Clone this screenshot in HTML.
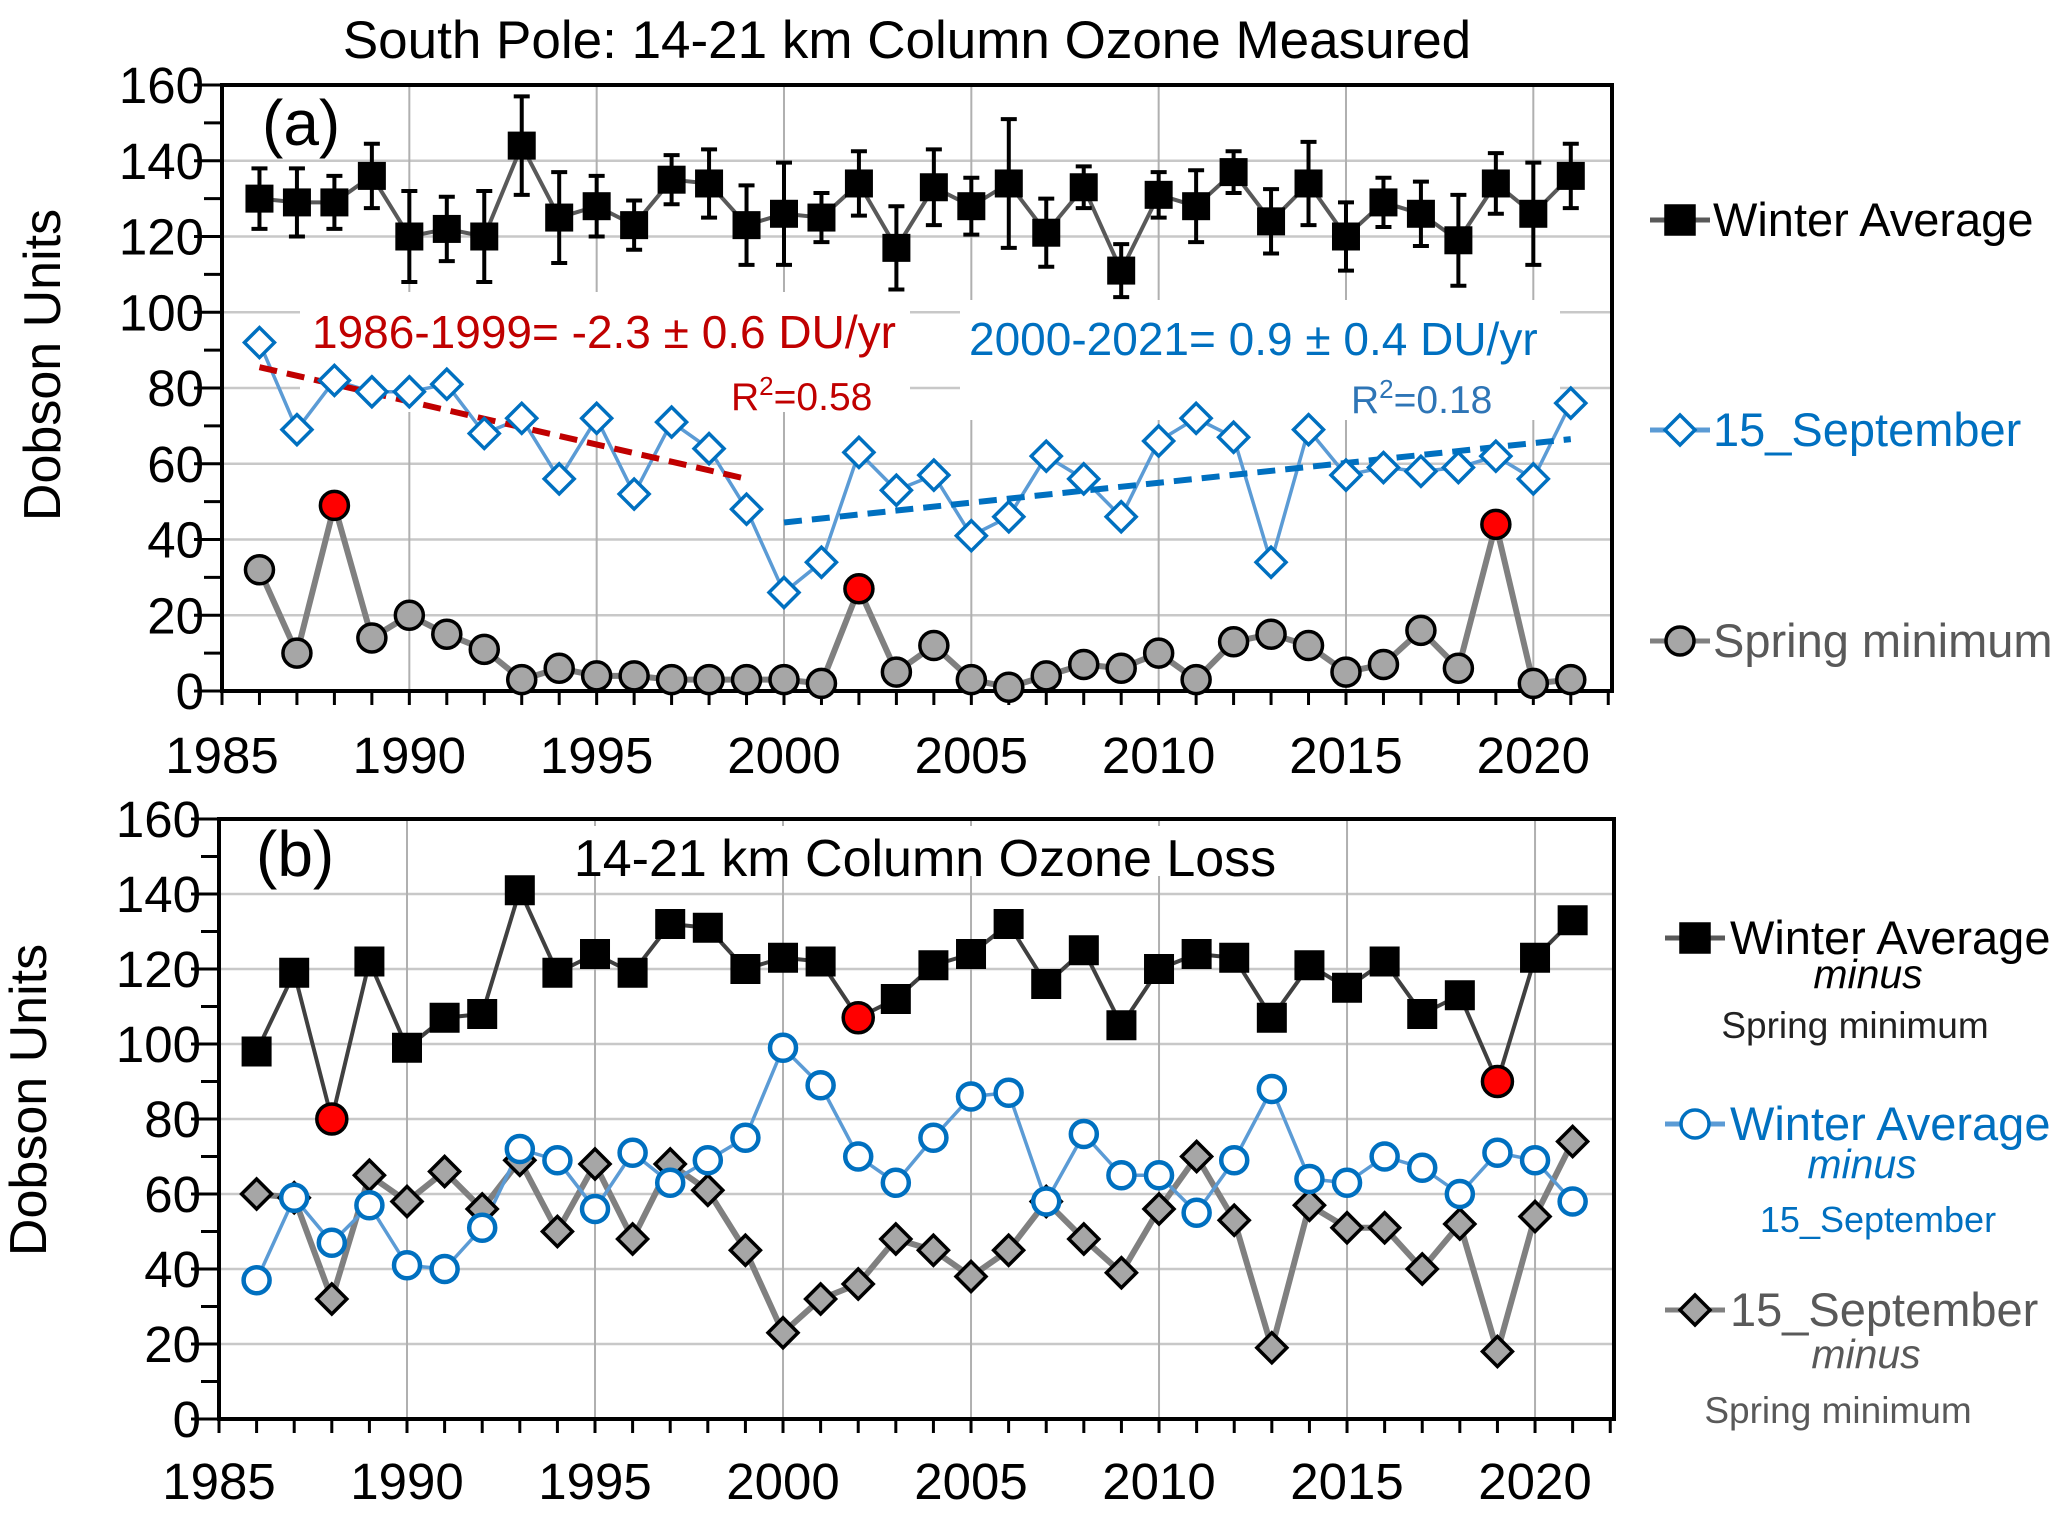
<!DOCTYPE html>
<html><head><meta charset="utf-8">
<style>
html,body{margin:0;padding:0;background:#fff;}
svg{display:block;font-family:"Liberation Sans",sans-serif;}
</style></head>
<body>
<svg id="chart" width="2067" height="1520" viewBox="0 0 2067 1520" xmlns="http://www.w3.org/2000/svg">
<text x="907" y="58" font-size="53" text-anchor="middle">South Pole:  14-21 km Column Ozone Measured</text>
<g id="pa"></g>
<g id="pb"></g>
</svg>
<script>
const years = [1986,1987,1988,1989,1990,1991,1992,1993,1994,1995,1996,1997,1998,1999,2000,2001,2002,2003,2004,2005,2006,2007,2008,2009,2010,2011,2012,2013,2014,2015,2016,2017,2018,2019,2020,2021];
const winterAvg = [130,129,129,136,120,122,120,144,125,128,123,135,134,123,126,125,134,117,133,128,134,121,133,111,131,128,137,124,134,120,129,126,119,134,126,136];
const winterErr = [8,9,7,8.5,12,8.5,12,13,12,8,6.5,6.5,9,10.5,13.5,6.5,8.5,11,10,7.5,17,9,5.5,7,6,9.5,5.5,8.5,11,9,6.5,8.5,12,8,13.5,8.5];
const sep15 = [92,69,82,79,79,81,68,72,56,72,52,71,64,48,26,34,63,53,57,41,46,62,56,46,66,72,67,34,69,57,59,58,59,62,56,76];
const springMin = [32,10,49,14,20,15,11,3,6,4,4,3,3,3,3,2,27,5,12,3,1,4,7,6,10,3,13,15,12,5,7,16,6,44,2,3];
const redYears = [1988,2002,2019];
const trend1 = {x:[1986,1999], y:[85.5,56]};
const trend2 = {x:[2000,2021], y:[44.5,66.5]};
const lossWinterSpring = [98,119,80,122,99,107,108,141,119,124,119,132,131,120,123,122,107,112,121,124,132,116,125,105,120,124,123,107,121,115,122,108,113,90,123,133];
const lossWinterSep = [37,59,47,57,41,40,51,72,69,56,71,63,69,75,99,89,70,63,75,86,87,58,76,65,65,55,69,88,64,63,70,67,60,71,69,58];
const lossSepSpring = [60,59,32,65,58,66,56,69,50,68,48,68,61,45,23,32,36,48,45,38,45,58,48,39,56,70,53,19,57,51,51,40,52,18,54,74];
const yTicks = [0,20,40,60,80,100,120,140,160];
const xTicks = [1985,1990,1995,2000,2005,2010,2015,2020];

const NS="http://www.w3.org/2000/svg";
function mk(parent,tag,attrs){const e=document.createElementNS(NS,tag);for(const k in attrs)e.setAttribute(k,attrs[k]);parent.appendChild(e);return e;}

function axes(g,L,R,T,B,label,tlabelY){
  const sx=v=>L+(v-1985)/(2022.1-1985)*(R-L);
  const sy=v=>B-(v/160)*(B-T);
  for(const t of yTicks){ if(t===0) continue;
    const l=mk(g,'line',{x1:L,x2:R,y1:sy(t),y2:sy(t),stroke:'#c8c8c8','stroke-width':2.5});
     }
  for(const t of xTicks){ if(t===1985) continue;
    const l=mk(g,'line',{x1:sx(t),x2:sx(t),y1:T,y2:B,stroke:'#b0b0b0','stroke-width':2});
     }
  for(let v=0;v<=160;v+=10){const major=v%20===0;
    const t=mk(g,'line',{x1:L-(major?28:18),x2:L,y1:sy(v),y2:sy(v),stroke:'#000','stroke-width':3});
     }
  for(const v of yTicks){const tx=mk(g,'text',{x:L-18,y:sy(v)+18,'font-size':51,'text-anchor':'end'});tx.textContent=v;
     }
  for(let yv=1985;yv<=2022;yv++){const t=mk(g,'line',{x1:sx(yv),x2:sx(yv),y1:B,y2:B+14,stroke:'#000','stroke-width':3});
     }
  for(const v of xTicks){const tx=mk(g,'text',{x:sx(v),y:tlabelY,'font-size':51,'text-anchor':'middle'});tx.textContent=v;
     }
  const yt=mk(g,'text',{x:0,y:0,'font-size':52,'text-anchor':'middle',transform:`translate(${label[0]},${label[1]}) rotate(-90)`});
  yt.textContent='Dobson Units';  
  return {sx,sy,L,R,T,B};
}
function frame(g,A){
  const f=mk(g,'rect',{x:A.L,y:A.T,width:A.R-A.L,height:A.B-A.T,fill:'none',stroke:'#000','stroke-width':4});
   
}
function poly(g,xs,ys,sx,sy,stroke,w,name){
  const pts=xs.map((x,i)=>sx(x)+','+sy(ys[i])).join(' ');
  const p=mk(g,'polyline',{points:pts,fill:'none',stroke:stroke,'stroke-width':w,'stroke-linejoin':'round'});
   
}
function marker(g,type,cx,cy,s,fill,stroke,sw,name){
  let e;
  if(type==='sq') e=mk(g,'rect',{x:cx-s/2,y:cy-s/2,width:s,height:s,fill,stroke,'stroke-width':sw});
  else if(type==='ci') e=mk(g,'circle',{cx,cy,r:s/2,fill,stroke,'stroke-width':sw});
  else e=mk(g,'polygon',{points:`${cx},${cy-s/2} ${cx+s/2},${cy} ${cx},${cy+s/2} ${cx-s/2},${cy}`,fill,stroke,'stroke-width':sw});
   
  return e;
}
function txt(g,x,y,s,fill,content,name,anchor,style){
  const t=mk(g,'text',{x,y,'font-size':s,fill,'text-anchor':anchor||'start'});
  if(style) t.setAttribute('font-style',style);
  t.innerHTML=content;   return t;
}

// Panel a
const ga=document.getElementById('pa');
const A=axes(ga,222,1612,85,691,[60,365],773);
mk(ga,'rect',{x:300,y:292,width:610,height:120,fill:'#fff'});
mk(ga,'rect',{x:960,y:300,width:600,height:120,fill:'#fff'});
frame(ga,A);
txt(ga,262,145,64,'#000','(a)','panel-a-label');
txt(ga,312,348,46,'#C00000','1986-1999=  -2.3 ± 0.6 DU/yr','trend-1986-1999-label');
txt(ga,731,410,39,'#C00000','R<tspan font-size="26" dy="-15">2</tspan><tspan dy="15">=0.58</tspan>','r2-1986-label');
txt(ga,969,355,46,'#0070C0','2000-2021=  0.9 ± 0.4 DU/yr','trend-2000-2021-label');
txt(ga,1351,413,39,'#2E75B6','R<tspan font-size="26" dy="-15">2</tspan><tspan dy="15">=0.18</tspan>','r2-2000-label');
poly(ga,years,springMin,A.sx,A.sy,'#808080',6,'spring-minimum-line');
poly(ga,years,sep15,A.sx,A.sy,'#5B9BD5',3.5,'sep15-line');
poly(ga,years,winterAvg,A.sx,A.sy,'#595959',4,'winter-average-line');
const t1=mk(ga,'line',{x1:A.sx(trend1.x[0]),y1:A.sy(trend1.y[0]),x2:A.sx(trend1.x[1]),y2:A.sy(trend1.y[1]),stroke:'#C00000','stroke-width':6,'stroke-dasharray':'18 10'});
 
const t2=mk(ga,'line',{x1:A.sx(trend2.x[0]),y1:A.sy(trend2.y[0]),x2:A.sx(trend2.x[1]),y2:A.sy(trend2.y[1]),stroke:'#0070C0','stroke-width':6,'stroke-dasharray':'18 10'});
 
years.forEach((y,i)=>{
  const x=A.sx(y), e1=A.sy(winterAvg[i]+winterErr[i]), e2=A.sy(winterAvg[i]-winterErr[i]);
  const eb=mk(ga,'path',{d:`M${x},${e1}V${e2}M${x-8},${e1}H${x+8}M${x-8},${e2}H${x+8}`,stroke:'#000','stroke-width':4,fill:'none'});
   
  marker(ga,'sq',x,A.sy(winterAvg[i]),27,'#000','#000',1,'winter-average-marker');
  marker(ga,'di',x,A.sy(sep15[i]),30,'#fff','#0070C0',3.5,'sep15-marker');
  const red=redYears.includes(y);
  marker(ga,'ci',x,A.sy(springMin[i]),28,red?'#FF0000':'#A6A6A6','#000',3.5,red?'spring-minimum-red-marker':'spring-minimum-marker');
});
function legendLine(g,x1,x2,y,color,type,fill,stroke,name){
  const l=mk(g,'line',{x1,x2,y1:y,y2:y,stroke:color,'stroke-width':5});  
  marker(g,type,(x1+x2)/2,y,type==='sq'?28:(type==='ci'?28:30),fill,stroke,3.5,name+'-marker');
}
legendLine(ga,1650,1710,220,'#595959','sq','#000','#000','legend-winter-average');
txt(ga,1713,236,47,'#000','Winter Average','legend-winter-average-label');
legendLine(ga,1650,1710,430,'#5B9BD5','di','#fff','#0070C0','legend-sep15');
txt(ga,1713,446,47,'#0070C0','15_September','legend-sep15-label');
legendLine(ga,1650,1710,641,'#808080','ci','#A6A6A6','#000','legend-spring-minimum');
txt(ga,1713,657,47,'#595959','Spring minimum','legend-spring-minimum-label');

// Panel b
const gb=document.getElementById('pb');
const B=axes(gb,219,1614,819,1419,[46,1100],1499);
mk(gb,'rect',{x:560,y:826,width:740,height:50,fill:'#fff'});
frame(gb,B);
txt(gb,256,876,64,'#000','(b)','panel-b-label');
txt(gb,925,876,52,'#000','14-21 km Column Ozone Loss','panel-b-title','middle');
poly(gb,years,lossSepSpring,B.sx,B.sy,'#808080',6,'sep-minus-spring-line');
poly(gb,years,lossWinterSep,B.sx,B.sy,'#5B9BD5',3.5,'winter-minus-sep-line');
poly(gb,years,lossWinterSpring,B.sx,B.sy,'#404040',4,'winter-minus-spring-line');
years.forEach((y,i)=>{
  const x=B.sx(y);
  marker(gb,'di',x,B.sy(lossSepSpring[i]),30,'#A6A6A6','#000',3.5,'sep-minus-spring-marker');
  marker(gb,'ci',x,B.sy(lossWinterSep[i]),26,'#fff','#0070C0',4.5,'winter-minus-sep-marker');
  const red=redYears.includes(y);
  if(red) marker(gb,'ci',x,B.sy(lossWinterSpring[i]),30,'#FF0000','#000',3.5,'winter-minus-spring-red-marker');
  else marker(gb,'sq',x,B.sy(lossWinterSpring[i]),29,'#000','#000',1,'winter-minus-spring-marker');
});
legendLine(gb,1665,1725,938,'#595959','sq','#000','#000','legend-winter-minus-spring');
txt(gb,1730,954,47,'#000','Winter Average','legend-winter-minus-spring-label');
txt(gb,1868,988,41,'#000','minus','legend-minus-1','middle','italic');
txt(gb,1855,1038,37,'#222','Spring minimum','legend-spring-minimum-1','middle');
legendLine(gb,1665,1725,1124,'#5B9BD5','ci','#fff','#0070C0','legend-winter-minus-sep');
txt(gb,1730,1140,47,'#0070C0','Winter Average','legend-winter-minus-sep-label');
txt(gb,1862,1178,41,'#0070C0','minus','legend-minus-2','middle','italic');
txt(gb,1878,1232,36,'#0070C0','15_September','legend-sep15-2','middle');
legendLine(gb,1665,1725,1310,'#808080','di','#A6A6A6','#000','legend-sep-minus-spring');
txt(gb,1730,1326,47,'#595959','15_September','legend-sep-minus-spring-label');
txt(gb,1866,1368,41,'#595959','minus','legend-minus-3','middle','italic');
txt(gb,1838,1423,37,'#595959','Spring minimum','legend-spring-minimum-3','middle');
</script>
</body></html>
